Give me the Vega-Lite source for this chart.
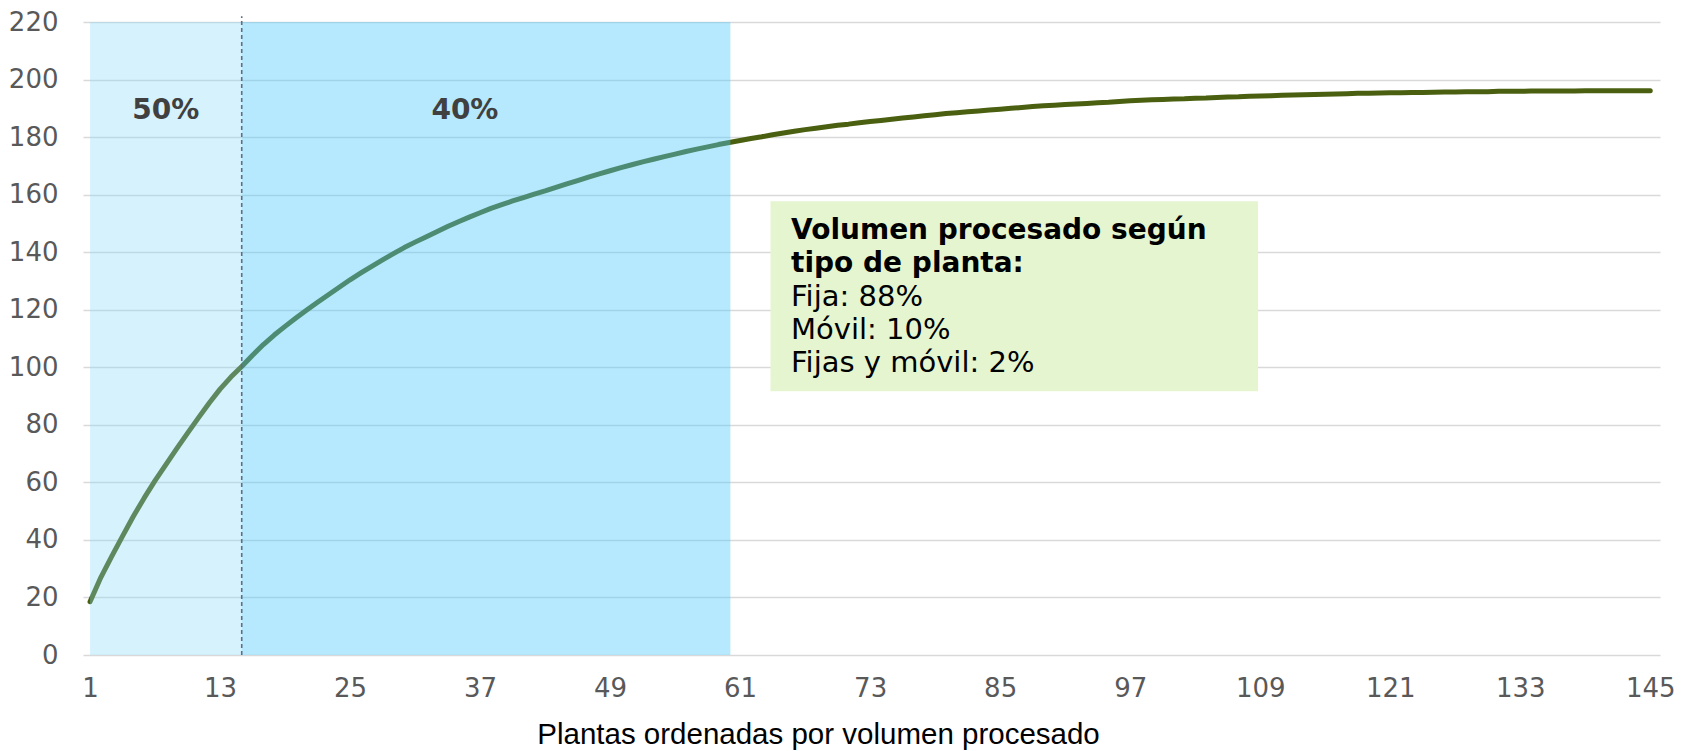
{
  "$schema": "https://vega.github.io/schema/vega-lite/v6.json",
  "width": 1577,
  "height": 633,
  "autosize": {"type": "none"},
  "padding": {"left": 83, "top": 22, "right": 24, "bottom": 96},
  "background": "white",
  "config": {"view": {"stroke": null}, "font": "DejaVu Sans"},
  "datasets": {
    "curva": [
      {"planta": 1, "volumen": 18.5}, {"planta": 2, "volumen": 27.0}, {"planta": 3, "volumen": 34.3}, {"planta": 4, "volumen": 41.3},
      {"planta": 5, "volumen": 48.2}, {"planta": 6, "volumen": 54.6}, {"planta": 7, "volumen": 60.6}, {"planta": 8, "volumen": 66.2},
      {"planta": 9, "volumen": 71.7}, {"planta": 10, "volumen": 77.1}, {"planta": 11, "volumen": 82.4}, {"planta": 12, "volumen": 87.6},
      {"planta": 13, "volumen": 92.4}, {"planta": 14, "volumen": 96.6}, {"planta": 15, "volumen": 100.3}, {"planta": 16, "volumen": 104.2},
      {"planta": 17, "volumen": 107.9}, {"planta": 18, "volumen": 111.2}, {"planta": 19, "volumen": 114.2}, {"planta": 20, "volumen": 117.1},
      {"planta": 21, "volumen": 119.9}, {"planta": 22, "volumen": 122.6}, {"planta": 23, "volumen": 125.2}, {"planta": 24, "volumen": 127.8},
      {"planta": 25, "volumen": 130.4}, {"planta": 26, "volumen": 132.8}, {"planta": 27, "volumen": 135.1}, {"planta": 28, "volumen": 137.3},
      {"planta": 29, "volumen": 139.5}, {"planta": 30, "volumen": 141.6}, {"planta": 31, "volumen": 143.5}, {"planta": 32, "volumen": 145.3},
      {"planta": 33, "volumen": 147.1}, {"planta": 34, "volumen": 148.9}, {"planta": 35, "volumen": 150.6}, {"planta": 36, "volumen": 152.2},
      {"planta": 37, "volumen": 153.7}, {"planta": 38, "volumen": 155.2}, {"planta": 39, "volumen": 156.5}, {"planta": 40, "volumen": 157.8},
      {"planta": 41, "volumen": 159.0}, {"planta": 42, "volumen": 160.2}, {"planta": 43, "volumen": 161.3}, {"planta": 44, "volumen": 162.5},
      {"planta": 45, "volumen": 163.7}, {"planta": 46, "volumen": 164.9}, {"planta": 47, "volumen": 166.1}, {"planta": 48, "volumen": 167.2},
      {"planta": 49, "volumen": 168.3}, {"planta": 50, "volumen": 169.4}, {"planta": 51, "volumen": 170.4}, {"planta": 52, "volumen": 171.4},
      {"planta": 53, "volumen": 172.3}, {"planta": 54, "volumen": 173.2}, {"planta": 55, "volumen": 174.1}, {"planta": 56, "volumen": 175.0},
      {"planta": 57, "volumen": 175.8}, {"planta": 58, "volumen": 176.6}, {"planta": 59, "volumen": 177.4}, {"planta": 60, "volumen": 178.1},
      {"planta": 61, "volumen": 178.8}, {"planta": 62, "volumen": 179.5}, {"planta": 63, "volumen": 180.1}, {"planta": 64, "volumen": 180.8},
      {"planta": 65, "volumen": 181.4}, {"planta": 66, "volumen": 182.0}, {"planta": 67, "volumen": 182.6}, {"planta": 68, "volumen": 183.1},
      {"planta": 69, "volumen": 183.6}, {"planta": 70, "volumen": 184.1}, {"planta": 71, "volumen": 184.5}, {"planta": 72, "volumen": 185.0},
      {"planta": 73, "volumen": 185.4}, {"planta": 74, "volumen": 185.8}, {"planta": 75, "volumen": 186.2}, {"planta": 76, "volumen": 186.6},
      {"planta": 77, "volumen": 187.0}, {"planta": 78, "volumen": 187.4}, {"planta": 79, "volumen": 187.8}, {"planta": 80, "volumen": 188.2},
      {"planta": 81, "volumen": 188.5}, {"planta": 82, "volumen": 188.8}, {"planta": 83, "volumen": 189.1}, {"planta": 84, "volumen": 189.4},
      {"planta": 85, "volumen": 189.7}, {"planta": 86, "volumen": 190.0}, {"planta": 87, "volumen": 190.3}, {"planta": 88, "volumen": 190.6},
      {"planta": 89, "volumen": 190.9}, {"planta": 90, "volumen": 191.1}, {"planta": 91, "volumen": 191.3}, {"planta": 92, "volumen": 191.5},
      {"planta": 93, "volumen": 191.7}, {"planta": 94, "volumen": 191.9}, {"planta": 95, "volumen": 192.1}, {"planta": 96, "volumen": 192.4},
      {"planta": 97, "volumen": 192.6}, {"planta": 98, "volumen": 192.8}, {"planta": 99, "volumen": 193.0}, {"planta": 100, "volumen": 193.1},
      {"planta": 101, "volumen": 193.2}, {"planta": 102, "volumen": 193.3}, {"planta": 103, "volumen": 193.5}, {"planta": 104, "volumen": 193.6},
      {"planta": 105, "volumen": 193.8}, {"planta": 106, "volumen": 193.9}, {"planta": 107, "volumen": 194.0}, {"planta": 108, "volumen": 194.2},
      {"planta": 109, "volumen": 194.3}, {"planta": 110, "volumen": 194.4}, {"planta": 111, "volumen": 194.5}, {"planta": 112, "volumen": 194.6},
      {"planta": 113, "volumen": 194.7}, {"planta": 114, "volumen": 194.8}, {"planta": 115, "volumen": 194.9}, {"planta": 116, "volumen": 195.0},
      {"planta": 117, "volumen": 195.1}, {"planta": 118, "volumen": 195.2}, {"planta": 119, "volumen": 195.2}, {"planta": 120, "volumen": 195.3},
      {"planta": 121, "volumen": 195.4}, {"planta": 122, "volumen": 195.4}, {"planta": 123, "volumen": 195.5}, {"planta": 124, "volumen": 195.5},
      {"planta": 125, "volumen": 195.6}, {"planta": 126, "volumen": 195.7}, {"planta": 127, "volumen": 195.7}, {"planta": 128, "volumen": 195.8},
      {"planta": 129, "volumen": 195.8}, {"planta": 130, "volumen": 195.8}, {"planta": 131, "volumen": 195.9}, {"planta": 132, "volumen": 195.9},
      {"planta": 133, "volumen": 195.9}, {"planta": 134, "volumen": 196.0}, {"planta": 135, "volumen": 196.0}, {"planta": 136, "volumen": 196.0},
      {"planta": 137, "volumen": 196.0}, {"planta": 138, "volumen": 196.0}, {"planta": 139, "volumen": 196.1}, {"planta": 140, "volumen": 196.1},
      {"planta": 141, "volumen": 196.1}, {"planta": 142, "volumen": 196.1}, {"planta": 143, "volumen": 196.1}, {"planta": 144, "volumen": 196.1},
      {"planta": 145, "volumen": 196.1}
    ],
    "zonas": [
      {"planta": 1, "fin": 15, "zona": "50%"},
      {"planta": 15, "fin": 60.1, "zona": "40%"}
    ],
    "corte": [{"planta": 15}],
    "etiquetas": [
      {"planta": 8, "volumen": 189.2, "texto": "50%"},
      {"planta": 35.6, "volumen": 189.2, "texto": "40%"}
    ],
    "caja": [{"planta": 63.8, "fin": 108.8, "volumen": 91.7, "tope": 157.7}],
    "nota_titulo": [
      {"planta": 65.7, "volumen": 144.6, "texto": "Volumen procesado según"},
      {"planta": 65.7, "volumen": 133.0, "texto": "tipo de planta:"}
    ],
    "nota_cuerpo": [
      {"planta": 65.7, "volumen": 121.4, "texto": "Fija: 88%"},
      {"planta": 65.7, "volumen": 109.8, "texto": "Móvil: 10%"},
      {"planta": 65.7, "volumen": 98.2, "texto": "Fijas y móvil: 2%"}
    ]
  },
  "layer": [
    {
      "data": {"name": "curva"},
      "mark": {"type": "line", "color": "#4a6010", "strokeWidth": 5, "strokeCap": "round", "strokeJoin": "round"},
      "encoding": {
        "x": {
          "field": "planta", "type": "quantitative",
          "scale": {"domain": [0.35, 145.9], "nice": false, "zero": false},
          "axis": {
            "title": "Plantas ordenadas por volumen procesado",
            "values": [1, 13, 25, 37, 49, 61, 73, 85, 97, 109, 121, 133, 145],
            "grid": false, "domain": false, "ticks": false,
            "labelPadding": 20, "labelFont": "DejaVu Sans", "labelFontSize": 26, "labelColor": "#595959",
            "labelFlush": false, "labelOverlap": false,
            "titleFont": "Liberation Sans", "titleFontSize": 29.5, "titleFontWeight": "normal", "titleColor": "#000000",
            "titleAnchor": "start", "titleAlign": "center", "titleX": 735,
            "titlePadding": 19
          }
        },
        "y": {
          "field": "volumen", "type": "quantitative",
          "scale": {"domain": [0, 220], "nice": false},
          "axis": {
            "title": null,
            "values": [0, 20, 40, 60, 80, 100, 120, 140, 160, 180, 200, 220],
            "grid": true, "gridColor": "#d9d9d9", "gridWidth": 1.5,
            "domain": false, "ticks": false,
            "labelPadding": 25, "labelFont": "DejaVu Sans", "labelFontSize": 26, "labelColor": "#595959",
            "labelFlush": false, "labelOverlap": false
          }
        }
      }
    },
    {
      "data": {"name": "zonas"},
      "mark": {"type": "rect"},
      "encoding": {
        "x": {"field": "planta", "type": "quantitative"},
        "x2": {"field": "fin"},
        "y": {"datum": 0},
        "y2": {"datum": 220},
        "color": {"field": "zona", "type": "nominal", "scale": {"domain": ["50%", "40%"], "range": ["#86d9f9", "#51cbfa"]}, "legend": null},
        "opacity": {"field": "zona", "type": "nominal", "scale": {"domain": ["50%", "40%"], "range": [0.34, 0.42]}, "legend": null}
      }
    },
    {
      "data": {"name": "corte"},
      "mark": {"type": "rule", "color": "#5f6e80", "strokeWidth": 1.6, "strokeDash": [4, 3]},
      "encoding": {
        "x": {"field": "planta", "type": "quantitative"},
        "y": {"datum": 0},
        "y2": {"datum": 222}
      }
    },
    {
      "data": {"name": "etiquetas"},
      "mark": {"type": "text", "font": "DejaVu Sans", "fontSize": 28, "fontWeight": "bold", "color": "#404040", "align": "center", "baseline": "middle"},
      "encoding": {
        "x": {"field": "planta", "type": "quantitative"},
        "y": {"field": "volumen", "type": "quantitative"},
        "text": {"field": "texto"}
      }
    },
    {
      "data": {"name": "caja"},
      "mark": {"type": "rect", "color": "#e5f5d0"},
      "encoding": {
        "x": {"field": "planta", "type": "quantitative"},
        "x2": {"field": "fin"},
        "y": {"field": "volumen", "type": "quantitative"},
        "y2": {"field": "tope"}
      }
    },
    {
      "data": {"name": "nota_titulo"},
      "mark": {"type": "text", "font": "DejaVu Sans", "fontSize": 28, "fontWeight": "bold", "color": "#000000", "align": "left", "baseline": "alphabetic"},
      "encoding": {
        "x": {"field": "planta", "type": "quantitative"},
        "y": {"field": "volumen", "type": "quantitative"},
        "text": {"field": "texto"}
      }
    },
    {
      "data": {"name": "nota_cuerpo"},
      "mark": {"type": "text", "font": "DejaVu Sans", "fontSize": 29, "color": "#000000", "align": "left", "baseline": "alphabetic"},
      "encoding": {
        "x": {"field": "planta", "type": "quantitative"},
        "y": {"field": "volumen", "type": "quantitative"},
        "text": {"field": "texto"}
      }
    }
  ]
}
